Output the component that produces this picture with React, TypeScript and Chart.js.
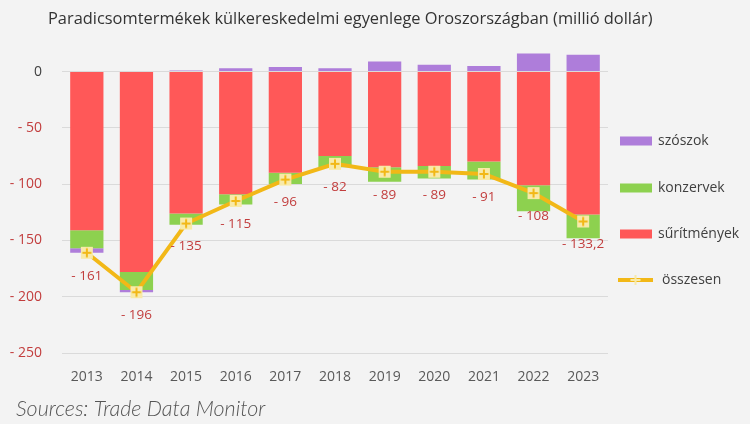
import { useEffect, useRef } from "react";
import { Chart, registerables } from "chart.js";
Chart.register(...registerables);

const years = ["2013", "2014", "2015", "2016", "2017", "2018", "2019", "2020", "2021", "2022", "2023"];
const suritmenyek = [-141, -178, -126, -109, -90, -75, -85, -84, -80, -101, -127];
const konzervek = [-16, -16, -10, -9, -10, -10, -13, -11, -16, -23, -21];
const szoszok = [-4, -2, 1, 3, 4, 3, 9, 6, 5, 16, 14.8];
const osszesen = [-161, -196, -135, -115, -96, -82, -89, -89, -91, -108, -133.2];
const totalLabels = ["- 161", "- 196", "- 135", "- 115", "- 96", "- 82", "- 89", "- 89", "- 91", "- 108", "- 133,2"];
const yTickValues = [0, -50, -100, -150, -200, -250];

const title = "Paradicsomtermékek külkereskedelmi egyenlege Oroszországban (millió dollár)";
const source = "Sources: Trade Data Monitor";

const RED = "#ff5858";
const GREEN = "#8dd14f";
const PURPLE = "#ae7dda";
const GOLD = "#f2b817";
const LABEL_RED = "#c23d3d";
const FONT = "'Open Sans', 'DejaVu Sans', sans-serif";

function makePointImage(): HTMLCanvasElement {
  const c = document.createElement("canvas");
  c.width = 14;
  c.height = 14;
  const g = c.getContext("2d")!;
  g.fillStyle = "#f8eaa8";
  g.fillRect(1, 1, 12, 12);
  g.strokeStyle = GOLD;
  g.lineWidth = 2;
  g.beginPath();
  g.moveTo(7, 2.5);
  g.lineTo(7, 11.5);
  g.moveTo(2.5, 7);
  g.lineTo(11.5, 7);
  g.stroke();
  return c;
}

export default function App() {
  const ref = useRef<HTMLCanvasElement | null>(null);

  useEffect(() => {
    document.body.style.margin = "0";
    document.body.style.overflow = "hidden";
    const canvas = ref.current!;
    const pointImg = makePointImage();

    const extras = {
      id: "extras",
      afterDatasetsDraw(chart: any) {
        const ctx = chart.ctx;
        const meta = chart.getDatasetMeta(3);
        ctx.save();
        ctx.font = `13.5px ${FONT}`;
        ctx.fillStyle = LABEL_RED;
        ctx.textAlign = "center";
        ctx.textBaseline = "middle";
        meta.data.forEach((el: any, i: number) => {
          ctx.fillText(totalLabels[i], el.x, el.y + 23);
        });
        ctx.restore();
      },
      afterDraw(chart: any) {
        const ctx = chart.ctx;
        ctx.save();
        // title
        ctx.font = `16.4px ${FONT}`;
        ctx.fillStyle = "#333333";
        ctx.textAlign = "left";
        ctx.textBaseline = "middle";
        ctx.fillText(title, 48, 19);
        // legend
        const items = [
          { label: "szószok", color: PURPLE, y: 141 },
          { label: "konzervek", color: GREEN, y: 188 },
          { label: "sűrítmények", color: RED, y: 234 },
        ];
        ctx.font = `14px ${FONT}`;
        items.forEach((it) => {
          ctx.fillStyle = it.color;
          ctx.fillRect(620, it.y - 4.5, 32, 9);
          ctx.fillStyle = "#404040";
          ctx.fillText(it.label, 658, it.y);
        });
        ctx.strokeStyle = GOLD;
        ctx.lineWidth = 4;
        ctx.beginPath();
        ctx.moveTo(618, 280);
        ctx.lineTo(653, 280);
        ctx.stroke();
        ctx.lineWidth = 2;
        ctx.beginPath();
        ctx.moveTo(635.5, 275);
        ctx.lineTo(635.5, 285);
        ctx.moveTo(630.5, 280);
        ctx.lineTo(640.5, 280);
        ctx.strokeStyle = "#f8eaa8";
        ctx.stroke();
        ctx.fillStyle = "#404040";
        ctx.fillText("összesen", 662, 280);
        // source
        ctx.font = `italic 300 21.5px Lato, ${FONT}`;
        ctx.fillStyle = "#555555";
        ctx.textBaseline = "alphabetic";
        ctx.fillText(source, 16, 416);
        ctx.restore();
      },
    };

    const chart = new Chart(canvas, {
      type: "bar",
      data: {
        labels: years,
        datasets: [
          { label: "sűrítmények", data: suritmenyek, backgroundColor: RED, order: 2, stack: "s" },
          { label: "konzervek", data: konzervek, backgroundColor: GREEN, order: 2, stack: "s" },
          { label: "szószok", data: szoszok, backgroundColor: PURPLE, order: 2, stack: "s" },
          {
            type: "line" as any,
            label: "összesen",
            data: osszesen,
            borderColor: GOLD,
            borderWidth: 4,
            pointStyle: pointImg as any,
            pointRadius: 7,
            order: 0,
            stack: "t",
            fill: false,
          } as any,
        ],
      },
      options: {
        responsive: false,
        animation: false,
        devicePixelRatio: 1,
        layout: { padding: { left: 0, right: 142, top: 49, bottom: 31 } },
        datasets: { bar: { categoryPercentage: 1, barPercentage: 0.67 } } as any,
        plugins: {
          legend: { display: false },
          title: { display: false },
          tooltip: { enabled: false },
        },
        scales: {
          x: {
            stacked: true,
            grid: { display: false, drawTicks: false },
            border: { display: false },
            ticks: { color: "#595959", font: { family: FONT, size: 14 }, padding: 16 },
            afterFit(scale: any) {
              scale.height = 40;
            },
          },
          y: {
            stacked: true,
            min: -250,
            max: 20,
            grid: { color: "#dadada", lineWidth: 1, drawTicks: false },
            border: { display: false },
            afterBuildTicks(scale: any) {
              scale.ticks = yTickValues.map((v) => ({ value: v }));
            },
            afterFit(scale: any) {
              scale.width = 62;
            },
            ticks: {
              padding: 20,
              font: { family: FONT, size: 14 },
              color: (c: any) => (c.tick && c.tick.value < 0 ? LABEL_RED : "#404040"),
              callback: (v: any) => (Number(v) === 0 ? "0" : "- " + Math.abs(Number(v))),
            },
          },
        },
      },
      plugins: [extras],
    });
    return () => chart.destroy();
  }, []);

  return (
    <div style={{ width: 750, height: 424, background: "#f3f3f3", position: "relative" }}>
      <canvas ref={ref} width={750} height={424} style={{ display: "block" }} />
    </div>
  );
}
